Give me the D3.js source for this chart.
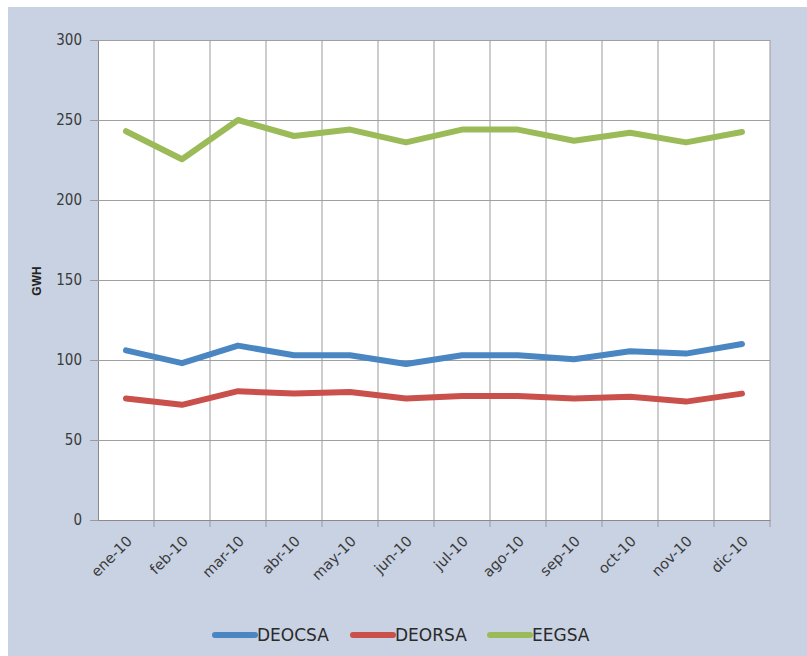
<!DOCTYPE html>
<html><head><meta charset="utf-8">
<script src="https://cdn.jsdelivr.net/npm/d3@7"></script>
<style>body{margin:0;background:#fff}svg{display:block}</style>
</head><body>
<script>
const months = ["ene-10","feb-10","mar-10","abr-10","may-10","jun-10","jul-10","ago-10","sep-10","oct-10","nov-10","dic-10"];
const deocsa = [106,98,109,103,103,97.5,103,103,100.5,105.5,104,110];
const deorsa = [76,72,80.5,79,80,76,77.5,77.5,76,77,74,79];
const eegsa  = [243,225.5,250,240,244,236,244,244,237,242,236,242.5];
const yTicks = [0,50,100,150,200,250,300];
const seriesNames = ["DEOCSA","DEORSA","EEGSA"];
const seriesColors = ["#4a86c2","#c9504b","#9bbb59"];

const W=807,H=656;
const m={l:98,t:40,r:770,b:520};
const svg=d3.select("body").append("svg").attr("width",W).attr("height",H);
svg.append("rect").attr("x",8).attr("y",7).attr("width",W-8).attr("height",H-7).attr("fill","#c8d2e3");
svg.append("rect").attr("x",m.l).attr("y",m.t).attr("width",m.r-m.l).attr("height",m.b-m.t).attr("fill","#fff");

const x=d3.scaleBand().domain(months).range([m.l,m.r]);
const y=d3.scaleLinear().domain([0,300]).range([m.b,m.t]);

const bounds=months.map(d=>x(d)).concat([m.r]).slice(1);
svg.append("g").selectAll("line").data(bounds).join("line")
  .attr("x1",d=>d).attr("x2",d=>d).attr("y1",m.t).attr("y2",m.b+7)
  .attr("stroke","#9a9a9a").attr("stroke-width",1);

const ya=svg.append("g").attr("transform",`translate(${m.l},0)`)
  .call(d3.axisLeft(y).tickValues(yTicks).tickSize(8).tickPadding(8));
ya.select(".domain").attr("stroke","#8a8a8a");
ya.selectAll(".tick line").attr("stroke","#9a9a9a");
ya.selectAll(".tick").append("line").attr("x1",0).attr("x2",m.r-m.l).attr("stroke","#a0a0a0");
ya.selectAll("text").attr("font-family","'Liberation Sans Narrow','DejaVu Sans Condensed',sans-serif")
  .attr("font-size",15).attr("fill","#3a3a3a");

const xa=svg.append("g").attr("transform",`translate(0,${m.b})`)
  .call(d3.axisBottom(x).tickSize(0).tickPadding(0));
xa.select(".domain").attr("stroke","#8a8a8a");
xa.selectAll("text").attr("font-family","'DejaVu Sans',sans-serif").attr("font-size",14.5).attr("fill","#3a3a3a")
  .attr("text-anchor","end").attr("dy",0).attr("transform","translate(7,22) rotate(-45)");

svg.append("text").attr("transform","translate(41,281) rotate(-90)").attr("text-anchor","middle")
  .attr("font-family","'Liberation Sans',Arial,sans-serif").attr("font-weight","bold").attr("font-size",12).attr("fill","#222").text("GWH");

const line=d3.line().x((d,i)=>x(months[i])+x.bandwidth()/2).y(d=>y(d));
[deocsa,deorsa,eegsa].forEach((s,i)=>{
  svg.append("path").datum(s).attr("d",line).attr("fill","none")
    .attr("stroke",seriesColors[i]).attr("stroke-width",6).attr("stroke-linejoin","round").attr("stroke-linecap","round");
});

const lg=[215,353,490];
seriesNames.forEach((n,i)=>{
  svg.append("line").attr("x1",lg[i]).attr("x2",lg[i]+40).attr("y1",635).attr("y2",635)
    .attr("stroke",seriesColors[i]).attr("stroke-width",6).attr("stroke-linecap","round");
  svg.append("text").attr("x",lg[i]+42).attr("y",641).attr("font-family","'DejaVu Sans',sans-serif")
    .attr("font-size",17).attr("textLength",null).attr("fill","#2a2a2a").text(n);
});
</script>
</body></html>
